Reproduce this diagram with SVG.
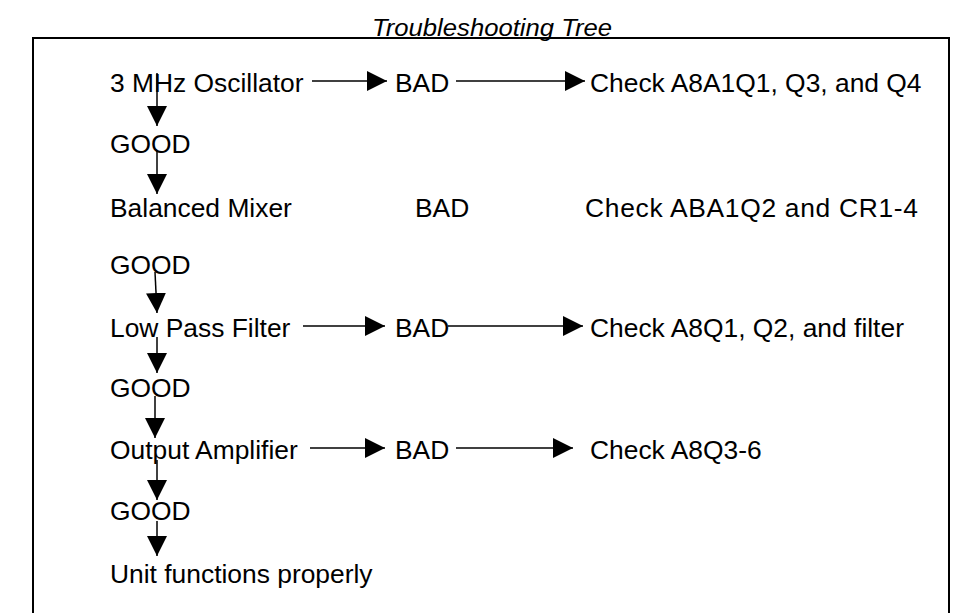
<svg xmlns="http://www.w3.org/2000/svg" width="955" height="613" viewBox="0 0 955 613">
<defs>
<style>
.t{font-family:"Liberation Sans",Arial,sans-serif;font-size:26.4px;fill:#000}
.title{font-family:"Liberation Sans",Arial,sans-serif;font-size:24px;font-style:italic;fill:#000}
.c{stroke:#000;stroke-width:1.5;fill:none;marker-end:url(#ah)}
</style>
<marker id="ah" markerUnits="userSpaceOnUse" markerWidth="21" markerHeight="20" refX="20" refY="10" orient="auto">
<path d="M0,0 L20,10 L0,20 z" fill="#000"/>
</marker>
</defs>
<rect width="955" height="613" fill="#fff"/>
<text class="title" x="372" y="36" textLength="240" lengthAdjust="spacingAndGlyphs">Troubleshooting Tree</text>
<rect x="33" y="38" width="916" height="600" fill="none" stroke="#000" stroke-width="2"/>
<g id="n-osc"><text class="t" x="110" y="92">3 MHz Oscillator</text></g>
<g id="n-osc-bad"><text class="t" x="395" y="92">BAD</text></g>
<g id="n-osc-check"><text class="t" x="590" y="92">Check A8A1Q1, Q3, and Q4</text></g>
<g id="n-good1"><text class="t" x="110" y="153">GOOD</text></g>
<g id="n-mix"><text class="t" x="110" y="217">Balanced Mixer</text></g>
<g id="n-mix-bad"><text class="t" x="415" y="217">BAD</text></g>
<g id="n-mix-check"><text class="t" x="585" y="217" style="letter-spacing:0.7px">Check ABA1Q2 and CR1-4</text></g>
<g id="n-good2"><text class="t" x="110" y="274">GOOD</text></g>
<g id="n-lpf"><text class="t" x="110" y="337">Low Pass Filter</text></g>
<g id="n-lpf-bad"><text class="t" x="395" y="337">BAD</text></g>
<g id="n-lpf-check"><text class="t" x="590" y="337">Check A8Q1, Q2, and filter</text></g>
<g id="n-good3"><text class="t" x="110" y="397">GOOD</text></g>
<g id="n-amp"><text class="t" x="110" y="459">Output Amplifier</text></g>
<g id="n-amp-bad"><text class="t" x="395" y="459">BAD</text></g>
<g id="n-amp-check"><text class="t" x="590" y="459">Check A8Q3-6</text></g>
<g id="n-good4"><text class="t" x="110" y="520">GOOD</text></g>
<g id="n-unit"><text class="t" x="110" y="583">Unit functions properly</text></g>
<g id="connectors">
<line class="c" x1="157" y1="73" x2="157" y2="126"/>
<line class="c" x1="157" y1="151" x2="157" y2="194"/>
<line class="c" x1="155" y1="272" x2="157" y2="313"/>
<line class="c" x1="157" y1="337" x2="157" y2="373"/>
<line class="c" x1="155" y1="396" x2="155" y2="438"/>
<line class="c" x1="157" y1="460" x2="157" y2="500"/>
<line class="c" x1="157" y1="521" x2="157" y2="556"/>
<line class="c" x1="312" y1="81" x2="387" y2="81"/>
<line class="c" x1="456" y1="81" x2="585" y2="81"/>
<line class="c" x1="303" y1="326" x2="385" y2="326"/>
<line class="c" x1="448" y1="326" x2="583" y2="326"/>
<line class="c" x1="310" y1="448" x2="385" y2="448"/>
<line class="c" x1="456" y1="448" x2="573" y2="448"/>
</g>
</svg>
